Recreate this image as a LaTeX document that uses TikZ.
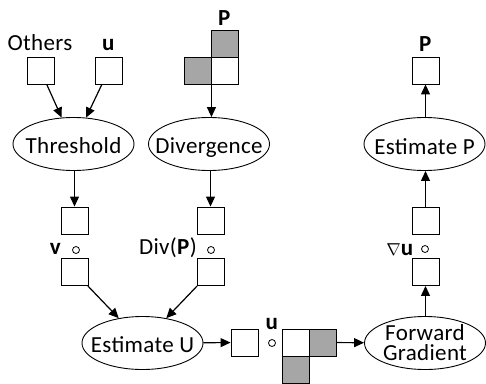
\documentclass[tikz,border=0pt]{standalone}
\usepackage{fontspec}
\setmainfont{Carlito}[LetterSpace=1.5]
\usetikzlibrary{shapes.geometric,arrows.meta}
\begin{document}
\begin{tikzpicture}[x=1pt,y=-1pt,
 box/.style={draw,line width=0.9pt,minimum size=27pt,inner sep=0pt},
 gbox/.style={box,fill=black!35},
 ell/.style={draw,ellipse,line width=0.9pt,minimum width=121pt,minimum height=53pt,inner sep=0pt},
 txt/.style={inner sep=0pt,anchor=base,font=\fontsize{23}{20}\selectfont},
 dotc/.style={circle,draw,line width=0.8pt,minimum size=7pt,inner sep=0pt},
 arr/.style={-{Triangle[length=10pt,width=9pt]},line width=1.2pt}]
\useasboundingbox (0,0) rectangle (486,383);
% top left inputs
\node[txt] (others) at (40,50) {Others};
\node[txt] (ulbl) at (108.5,50) {\textbf{u}};
\node[box] (obox) at (40.5,70.5) {};
\node[box] (ubox) at (108.5,70.5) {};
% P shape
\node[txt] (plbl) at (224.5,25) {\textbf{P}};
\node[gbox] (p1) at (224.5,43.5) {};
\node[gbox] (p2) at (197.5,70.5) {};
\node[box] (p3) at (224.5,70.5) {};
% ellipses top row
\node[ell] (thr) at (73.5,144) {};
\node[txt] (thrt) at (73.5,153) {Threshold};
\node[ell] (div) at (209,144) {};
\node[txt] (divt) at (209,153) {Divergence};
\node[ell] (estp) at (424.5,144) {};
\node[txt] (estpt) at (424.5,154) {Estimate P};
% P output
\node[txt] (plbl2) at (425.5,51) {\textbf{P}};
\node[box] (pbox) at (425.5,70.5) {};
% middle boxes
\node[box] (v1) at (74.5,220.5) {};
\node[box] (v2) at (74.5,272) {};
\node[txt] (vlbl) at (55.5,254) {\textbf{v}};
\node[dotc] (vdot) at (76,250) {};
\node[box] (d1) at (210.5,220.5) {};
\node[box] (d2) at (210.5,272) {};
\node[txt,anchor=base east] (dlbl) at (197,254) {Div(\textbf{P})};
\node[dotc] (ddot) at (211,250) {};
\node[box] (g1) at (425.5,220.5) {};
\node[box] (g2) at (425.5,272) {};
\node[txt] (glbl) at (400,255) {{\fontsize{17}{17}\selectfont$\nabla$}\textbf{u}};
\node[dotc] (gdot) at (425,249) {};
% bottom row
\node[ell] (estu) at (142.5,343) {};
\node[txt] (estut) at (142.5,352) {Estimate U};
\node[box] (ub) at (244.5,342.5) {};
\node[txt] (ulbl2) at (272,329) {\textbf{u}};
\node[dotc] (udot) at (272,343) {};
\node[box] (s1) at (296,342.5) {};
\node[gbox] (s2) at (323,342.5) {};
\node[gbox] (s3) at (296,369.5) {};
\node[ell] (fg) at (425,343) {};
\node[txt,align=center,anchor=center] (fgt) at (425,343) {Forward\\Gradient};
% connectors
\draw[arr] (obox) -- (thr);
\draw[arr] (ubox) -- (thr);
\draw[arr] (p2.south east) -- (p2.south east |- div.north);
\draw[arr] (thr.south -| v1.north) -- (v1.north);
\draw[arr] (div.south -| d1.north) -- (d1.north);
\draw[arr] (v2) -- (estu);
\draw[arr] (d2) -- (estu);
\draw[arr] (estu) -- (ub);
\draw[arr] (s2) -- (fg);
\draw[arr] (fg.north -| g2.south) -- (g2.south);
\draw[arr] (g1.north) -- (g1.north |- estp.south);
\draw[arr] (estp.north -| pbox.south) -- (pbox.south);
\end{tikzpicture}
\end{document}
